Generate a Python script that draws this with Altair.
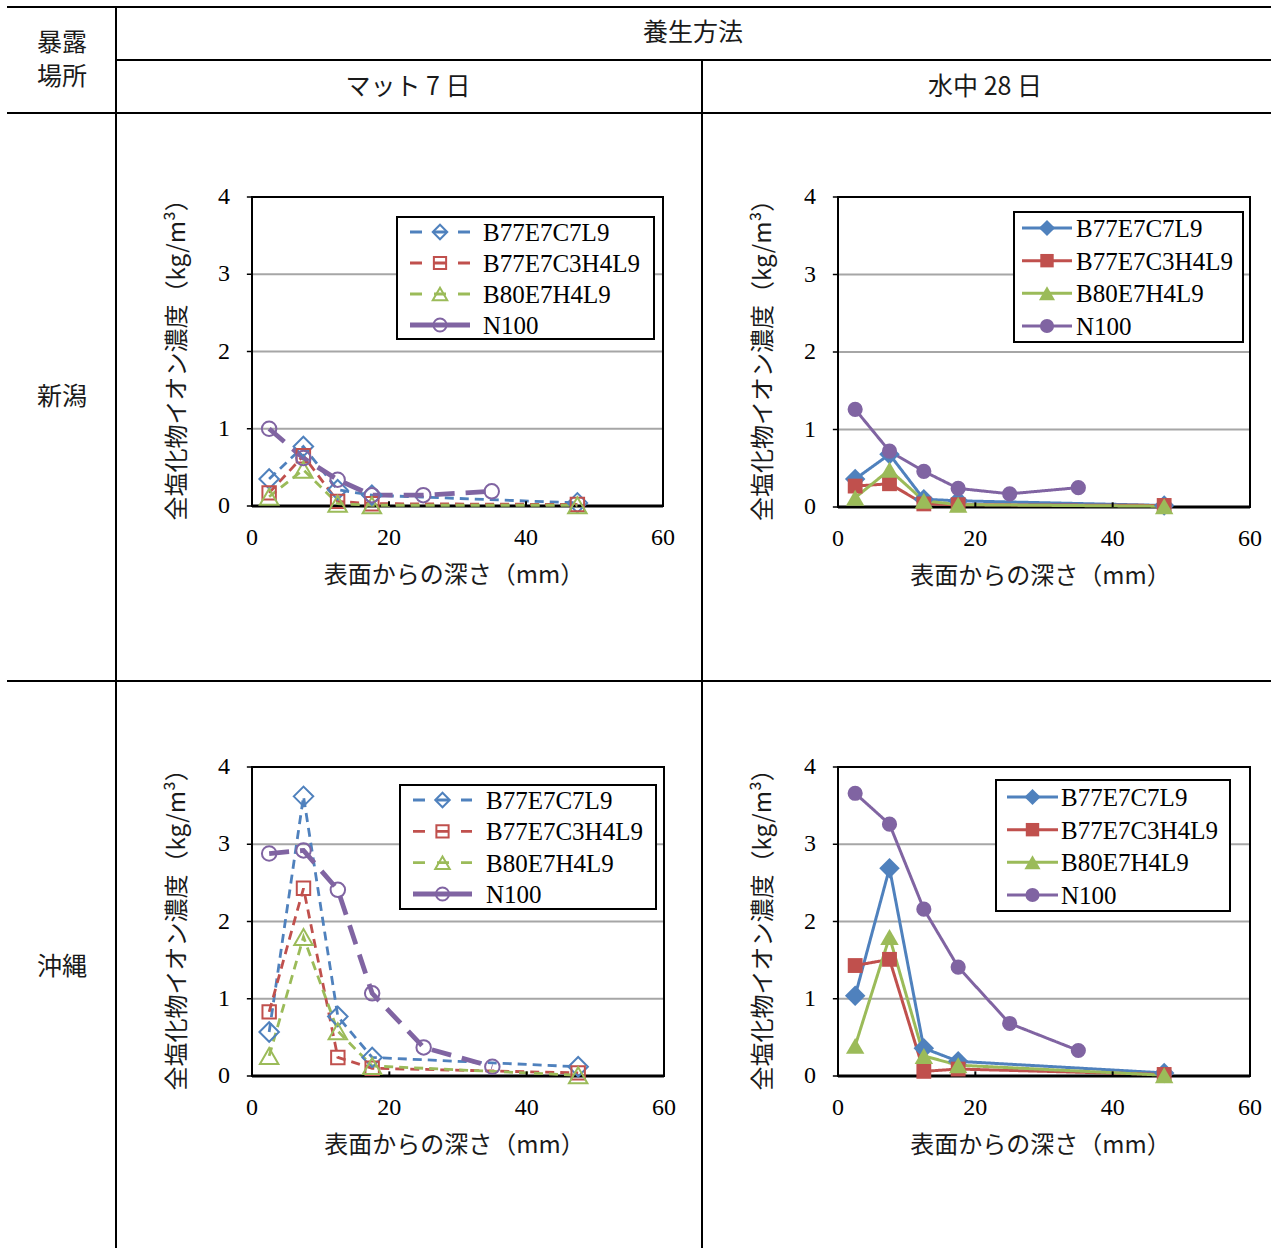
import altair as alt
import pandas as pd

# ---------------------------------------------------------------- data
SERIES = ["B77E7C7L9", "B77E7C3H4L9", "B80E7H4L9", "N100"]
COLORS = ["#4F81BD", "#C0504D", "#9BBB59", "#8064A2"]
SHAPES = ["diamond", "square", "triangle-up", "circle"]

DEPTH = [2.5, 7.5, 12.5, 17.5, 47.5]          # mm
DEPTH_N100 = [2.5, 7.5, 12.5, 17.5, 25, 35]   # mm

# 新潟・マット7日
niigata_mat_b77c7 = [0.35, 0.77, 0.21, 0.14, 0.04]
niigata_mat_b77c3h4 = [0.17, 0.65, 0.06, 0.03, 0.02]
niigata_mat_b80h4 = [0.12, 0.47, 0.03, 0.01, 0.01]
niigata_mat_n100 = [1.00, 0.62, 0.34, 0.14, 0.14, 0.19]

# 新潟・水中28日
niigata_wat_b77c7 = [0.36, 0.68, 0.10, 0.08, 0.02]
niigata_wat_b77c3h4 = [0.27, 0.30, 0.04, 0.03, 0.02]
niigata_wat_b80h4 = [0.12, 0.48, 0.08, 0.03, 0.01]
niigata_wat_n100 = [1.26, 0.72, 0.46, 0.24, 0.17, 0.25]

# 沖縄・マット7日
okinawa_mat_b77c7 = [0.57, 3.62, 0.77, 0.24, 0.12]
okinawa_mat_b77c3h4 = [0.83, 2.43, 0.24, 0.10, 0.04]
okinawa_mat_b80h4 = [0.26, 1.80, 0.58, 0.13, 0.01]
okinawa_mat_n100 = [2.88, 2.92, 2.41, 1.07, 0.37, 0.12]

# 沖縄・水中28日
okinawa_wat_b77c7 = [1.04, 2.69, 0.36, 0.19, 0.04]
okinawa_wat_b77c3h4 = [1.43, 1.51, 0.06, 0.09, 0.02]
okinawa_wat_b80h4 = [0.39, 1.80, 0.26, 0.14, 0.01]
okinawa_wat_n100 = [3.66, 3.26, 2.16, 1.41, 0.68, 0.33]

X_TICKS = [0, 20, 40, 60]
Y_TICKS = [0, 1, 2, 3, 4]
GRID_VALUES = [1, 2, 3]
X_TITLE = "表面からの深さ（mm）"
Y_TITLE = "全塩化物イオン濃度（kg/m³）"

HEADERS = ["暴露", "場所", "養生方法", "マット 7 日", "水中 28 日", "新潟", "沖縄"]

# ---------------------------------------------------------------- layout
W, H = 1271, 1248
SERIF = "Liberation Serif"
CJK = "Noto Sans CJK JP"
TEXT_COLOR = "#1a1a1a"

HEADER_POS = [(62, 43), (62, 77), (693, 33), (408, 87), (985, 87), (62, 397), (62, 967)]
TABLE_LINES = [  # x, x2, y, y2
    (7, W, 7, 7), (116, W, 60, 60), (7, W, 113, 113), (7, W, 681, 681),
    (116, 116, 7, H), (702, 702, 60, H),
]

# line/marker styling per series: open markers + dashes, or filled markers + solid lines
STYLE = {
    True: dict(dash=[[9, 6], [9, 6], [9, 6], [20, 11]], sw=[2.8, 2.8, 2.8, 4.8],
               size=[380, 180, 340, 210], leg_dash=[[12, 12], [12, 12], [12, 12], [1, 0]],
               leg_sw=[2.8, 2.8, 2.8, 4.8], leg_size=[210, 150, 210, 170]),
    False: dict(dash=[[1, 0]] * 4, sw=[3, 3, 3, 3],
                size=[420, 220, 340, 230], leg_dash=[[1, 0]] * 4,
                leg_sw=[3, 3, 3, 3], leg_size=[260, 180, 260, 200]),
}

PANELS = [
    dict(vals=[niigata_mat_b77c7, niigata_mat_b77c3h4, niigata_mat_b80h4, niigata_mat_n100],
         x0=252, x1=663, ytop=197, ybot=506, hollow=True,
         box=(397, 654, 217, 339), rows=(232, 325), seg=(410, 470), tx=483),
    dict(vals=[niigata_wat_b77c7, niigata_wat_b77c3h4, niigata_wat_b80h4, niigata_wat_n100],
         x0=838, x1=1250, ytop=197, ybot=507, hollow=False,
         box=(1014, 1243, 212, 342), rows=(228, 326), seg=(1022, 1072), tx=1076),
    dict(vals=[okinawa_mat_b77c7, okinawa_mat_b77c3h4, okinawa_mat_b80h4, okinawa_mat_n100],
         x0=252, x1=664, ytop=767, ybot=1076, hollow=True,
         box=(400, 656, 785, 909), rows=(800, 894), seg=(413, 472), tx=486),
    dict(vals=[okinawa_wat_b77c7, okinawa_wat_b77c3h4, okinawa_wat_b80h4, okinawa_wat_n100],
         x0=838, x1=1250, ytop=767, ybot=1076, hollow=False,
         box=(996, 1230, 780, 911), rows=(797, 895), seg=(1007, 1058), tx=1061),
]

color_enc = alt.Color("series:N", scale=alt.Scale(domain=SERIES, range=COLORS), legend=None)
shape_enc = alt.Shape("series:N", scale=alt.Scale(domain=SERIES, range=SHAPES), legend=None)


def series_frame(vals, style):
    rows = []
    for i, (name, v) in enumerate(zip(SERIES, vals)):
        depths = DEPTH_N100 if name == "N100" else DEPTH
        for d, y in zip(depths, v):
            rows.append({"series": name, "depth": d, "value": y,
                         "sw": style["sw"][i], "sz": style["size"][i]})
    return pd.DataFrame(rows)


def panel(p):
    st = STYLE[p["hollow"]]
    df = series_frame(p["vals"], st)
    xs = alt.Scale(domain=[0, 60], range=[p["x0"], p["x1"]], nice=False, zero=False)
    ys = alt.Scale(domain=[0, 4], range=[p["ybot"], p["ytop"]], nice=False, zero=False)

    def X(field="depth:Q"):
        return alt.X(field, scale=xs, axis=None)

    def Y(field="value:Q"):
        return alt.Y(field, scale=ys, axis=None)

    grid = alt.Chart(pd.DataFrame({"value": GRID_VALUES, "depth": 0, "depth_end": 60})).mark_rule(
        color="#A6A6A6", strokeWidth=2
    ).encode(x=X(), x2="depth_end:Q", y=Y())

    frame = alt.Chart(pd.DataFrame({"depth": [0], "depth_end": [60], "value": [0], "value_end": [4]})).mark_rect(
        fillOpacity=0, stroke="black", strokeWidth=2
    ).encode(x=X(), x2="depth_end:Q", y=Y(), y2="value_end:Q")

    base_line = alt.Chart(pd.DataFrame({"depth": [0], "depth_end": [60], "value": [0]})).mark_rule(
        color="black", strokeWidth=3
    ).encode(x=X(), x2="depth_end:Q", y=Y())

    # x axis: short inward ticks, labels, title
    x_ticks = alt.Chart(pd.DataFrame({"depth": [20, 40], "value": 0.0, "value_end": 0.06})).mark_rule(
        color="black", strokeWidth=2
    ).encode(x=X(), y=Y(), y2="value_end:Q")
    x_labels = alt.Chart(pd.DataFrame({"depth": X_TICKS, "value": 0.0})).mark_text(
        font=SERIF, fontSize=24, color="black", align="center", baseline="alphabetic", dy=39
    ).encode(x=X(), y=Y(), text=alt.Text("depth:Q", format="d"))
    x_title = alt.Chart(pd.DataFrame({"depth": [29.5], "value": [0.0], "t": [X_TITLE]})).mark_text(
        font=CJK, fontSize=24, color=TEXT_COLOR, align="center", baseline="middle", dy=70
    ).encode(x=X(), y=Y(), text="t:N")

    # y axis: outward ticks, labels, rotated title
    y_ticks = alt.Chart(pd.DataFrame({"value": Y_TICKS, "depth": 0.0, "depth_end": -0.75})).mark_rule(
        color="black", strokeWidth=1.5
    ).encode(x=X(), x2="depth_end:Q", y=Y())
    y_labels = alt.Chart(pd.DataFrame({"value": Y_TICKS, "depth": 0.0})).mark_text(
        font=SERIF, fontSize=24, color="black", align="right", baseline="middle", dx=-22
    ).encode(x=X(), y=Y(), text=alt.Text("value:Q", format="d"))
    y_title = alt.Chart(pd.DataFrame({"depth": [0.0], "value": [1.97], "t": [Y_TITLE]})).mark_text(
        font=CJK, fontSize=24, color=TEXT_COLOR, align="center", baseline="middle", angle=270, dy=-74
    ).encode(x=X(), y=Y(), text="t:N")

    lines = alt.Chart(df).mark_line().encode(
        x=X(), y=Y(), color=color_enc,
        strokeDash=alt.StrokeDash("series:N", scale=alt.Scale(domain=SERIES, range=st["dash"]), legend=None),
        strokeWidth=alt.StrokeWidth("sw:Q", scale=None, legend=None),
        detail="series:N",
    )
    points = alt.Chart(df).mark_point(filled=not p["hollow"], opacity=1, strokeWidth=2).encode(
        x=X(), y=Y(), color=color_enc, shape=shape_enc,
        size=alt.Size("sz:Q", scale=None, legend=None),
    )
    return alt.layer(grid, frame, base_line, lines, points, x_ticks, y_ticks,
                     x_labels, x_title, y_labels, y_title)


def legend(p):
    st = STYLE[p["hollow"]]
    bx0, bx1, by0, by1 = p["box"]
    r0, r1 = p["rows"]
    sa, sb = p["seg"]
    leg = pd.DataFrame({"series": SERIES, "sw": st["leg_sw"], "sz": st["leg_size"]})
    y = alt.Y("series:N", scale=alt.Scale(type="point", domain=SERIES, range=[r0, r1], padding=0), axis=None)

    box = alt.Chart(pd.DataFrame({"k": [0]})).mark_rect(fill="white", stroke="black", strokeWidth=2).encode(
        x=alt.value(bx0), x2=alt.value(bx1), y=alt.value(by0), y2=alt.value(by1)
    )
    seg = alt.Chart(leg).mark_rule().encode(
        x=alt.value(sa), x2=alt.value(sb), y=y, color=color_enc,
        strokeDash=alt.StrokeDash("series:N", scale=alt.Scale(domain=SERIES, range=st["leg_dash"]), legend=None),
        strokeWidth=alt.StrokeWidth("sw:Q", scale=None, legend=None),
    )
    mark = alt.Chart(leg).mark_point(filled=not p["hollow"], opacity=1, strokeWidth=2).encode(
        x=alt.value((sa + sb) / 2), y=y, color=color_enc, shape=shape_enc,
        size=alt.Size("sz:Q", scale=None, legend=None),
    )
    label = alt.Chart(leg).mark_text(align="left", baseline="middle", font=SERIF, fontSize=25, color="black", dy=1).encode(
        x=alt.value(p["tx"]), y=y, text="series:N"
    )
    return alt.layer(box, seg, mark, label)


# table rules and header cells
lines_df = pd.DataFrame(TABLE_LINES, columns=["x", "x2", "y", "y2"])
table = alt.Chart(lines_df).mark_rule(color="black", strokeWidth=2).encode(
    x=alt.X("x:Q", scale=None, axis=None), x2="x2:Q",
    y=alt.Y("y:Q", scale=None, axis=None), y2="y2:Q",
)
hdr_df = pd.DataFrame({
    "text": HEADERS,
    "px": [p[0] for p in HEADER_POS],
    "py": [p[1] for p in HEADER_POS],
})
headers = alt.Chart(hdr_df).mark_text(font=CJK, fontSize=25, color=TEXT_COLOR, align="center", baseline="middle").encode(
    x=alt.X("px:Q", scale=None, axis=None),
    y=alt.Y("py:Q", scale=None, axis=None),
    text="text:N",
)

layers = [table, headers]
for p in PANELS:
    layers.append(panel(p))
    layers.append(legend(p))

chart = alt.layer(*layers).resolve_scale(
    x="independent", y="independent", color="independent", shape="independent",
    strokeDash="independent",
).properties(
    width=W, height=H, padding=0, autosize=alt.AutoSizeParams(type="none"),
).configure_view(stroke=None)

chart.save("out.html", embed_options={"renderer": "svg", "actions": False})
